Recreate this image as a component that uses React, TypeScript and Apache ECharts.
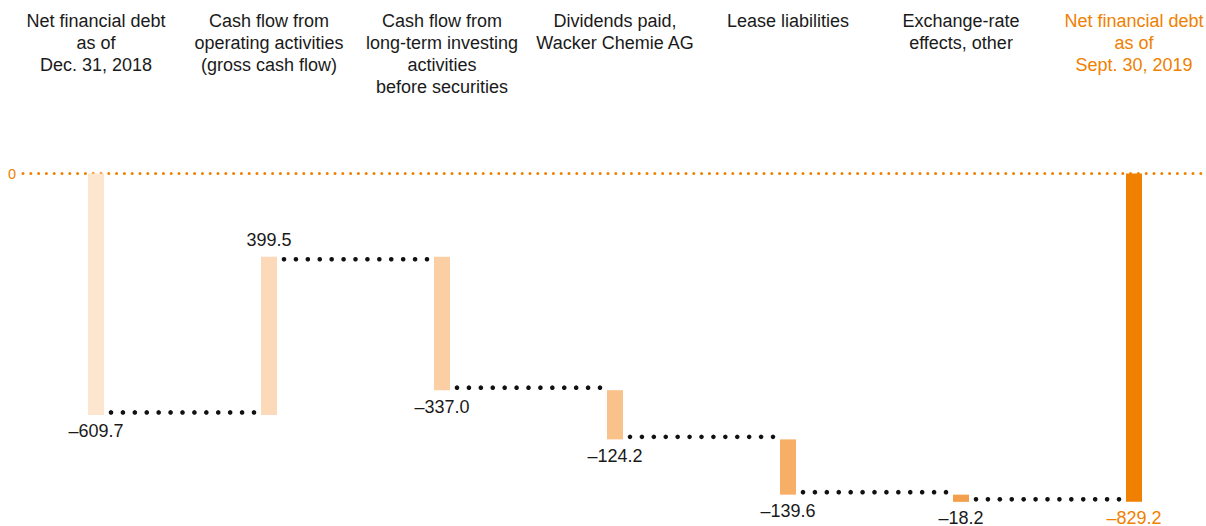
import React, { useEffect, useRef } from "react";
import * as echarts from "echarts";

const categories = [
  "Net financial debt\nas of\nDec. 31, 2018",
  "Cash flow from\noperating activities\n(gross cash flow)",
  "Cash flow from\nlong-term investing\nactivities\nbefore securities",
  "Dividends paid,\nWacker Chemie AG",
  "Lease liabilities",
  "Exchange-rate\neffects, other",
  "Net financial debt\nas of\nSept. 30, 2019",
];
const values = [-609.7, 399.5, -337.0, -124.2, -139.6, -18.2, -829.2];
const isTotal = [true, false, false, false, false, false, true];

const barColors = ["#fde5cf", "#fcd9b9", "#fbcfa3", "#f9c28a", "#f7ae66", "#f4a04a", "#f08000"];
const ORANGE = "#f08000";
const TEXT = "#1a1a1a";
const FONT = "'Liberation Sans', Arial, Helvetica, sans-serif";

const fmt = (v: number) => (v < 0 ? "\u2013" + Math.abs(v).toFixed(1) : v.toFixed(1));

export default function App() {
  const ref = useRef<HTMLDivElement>(null);
  useEffect(() => {
    if (!ref.current) return;
    const chart = echarts.init(ref.current, undefined, { renderer: "svg" });

    let run = 0;
    const rows = values.map((v, i) => {
      let s: number, e: number;
      if (isTotal[i]) {
        s = 0;
        e = v;
      } else {
        s = run;
        e = run + v;
      }
      run = e;
      return [i, s, e, v];
    });
    const n = values.length;

    chart.setOption({
      animation: false,
      grid: { left: 9.5, width: 1211, top: 173.5, height: 356.4, outerBoundsMode: "none", containLabel: false },
      xAxis: {
        type: "category",
        data: categories,
        position: "top",
        offset: 163.5,
        axisLine: { show: false },
        axisTick: { show: false },
        splitLine: { show: false },
        axisLabel: {
          interval: 0,
          margin: 0,
          verticalAlign: "top",
          lineHeight: 22,
          fontSize: 18,
          fontFamily: FONT,
          hideOverlap: false,
          color: (_v: any, idx: number) => (idx === n - 1 ? ORANGE : TEXT),
        },
      },
      yAxis: { type: "value", min: -900, max: 0, show: false },
      series: [
        {
          type: "custom",
          z: 1,
          data: [[0]],
          renderItem: (params: any, api: any) => {
            const p = api.coord([0, 0]);
            return {
              type: "group",
              children: [
                {
                  type: "line",
                  shape: { x1: 23, y1: p[1], x2: api.getWidth(), y2: p[1] },
                  style: { stroke: ORANGE, lineWidth: 3, lineDash: [0, 7.8], lineCap: "round" },
                },
                {
                  type: "text",
                  style: {
                    text: "0",
                    x: 8,
                    y: p[1],
                    align: "left",
                    verticalAlign: "middle",
                    fill: ORANGE,
                    fontSize: 14.5,
                    fontFamily: FONT,
                  },
                },
              ],
            };
          },
        },
        {
          type: "custom",
          z: 2,
          data: rows,
          renderItem: (params: any, api: any) => {
            const i = api.value(0);
            const s = api.value(1);
            const e = api.value(2);
            const v = api.value(3);
            const p1 = api.coord([i, s]);
            const p2 = api.coord([i, e]);
            const x = p1[0];
            const top = Math.min(p1[1], p2[1]);
            const bot = Math.max(p1[1], p2[1]);
            const children: any[] = [
              {
                type: "rect",
                shape: { x: x - 8, y: top, width: 16, height: Math.max(bot - top, 1) },
                style: { fill: barColors[i] },
              },
              {
                type: "text",
                style: {
                  text: fmt(v),
                  x,
                  y: v < 0 ? bot + 16.5 : top - 17,
                  align: "center",
                  verticalAlign: "middle",
                  fill: i === n - 1 ? ORANGE : TEXT,
                  fontSize: 18,
                  lineHeight: 15,
                  fontFamily: FONT,
                },
              },
            ];
            if (i < n - 1) {
              const next = api.coord([i + 1, e]);
              const y = p2[1] + (v < 0 ? -2.5 : 2.5);
              const x1 = x + 8 + 7;
              const x2 = next[0] - 8 - 7;
              const cnt = Math.round((x2 - x1) / 12);
              const gap = (x2 - x1) / cnt;
              for (let k = 0; k <= cnt; k++) {
                children.push({
                  type: "circle",
                  shape: { cx: x1 + k * gap, cy: y, r: 2.3 },
                  style: { fill: "#111" },
                });
              }
            }
            return { type: "group", children };
          },
        },
      ],
    });
    return () => chart.dispose();
  }, []);
  return (
    <div
      ref={ref}
      style={{ position: "fixed", left: 0, top: 0, width: 1206, height: 526, background: "#fff" }}
    />
  );
}
